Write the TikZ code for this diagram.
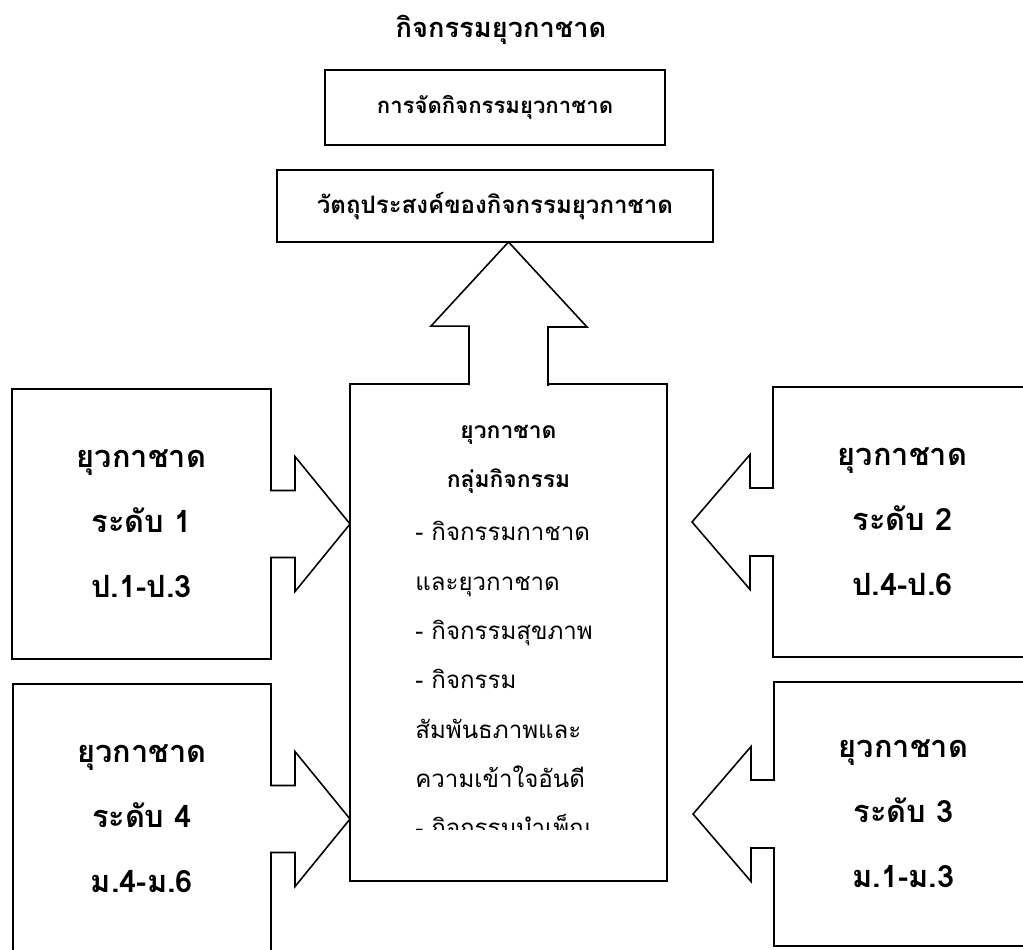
\documentclass[tikz,border=0pt]{standalone}
\usepackage{fontspec}
\newfontfamily\thaifont[Script=Thai]{Loma}
\usetikzlibrary{positioning,calc}

\begin{document}
\begin{tikzpicture}[
    x=0.02cm, y=-0.02cm,
    every node/.style={font=\thaifont},
    headbox/.style={rectangle, draw, line width=1.1pt, inner sep=0pt, outer sep=0pt, font=\thaifont\bfseries\fontsize{13.7}{17}\selectfont},
    lvbox/.style={rectangle, draw, line width=1.1pt, minimum width=5.18cm, minimum height=5.4cm, inner sep=0pt, outer sep=0pt, align=center, font=\thaifont\bfseries\fontsize{17.5}{37}\selectfont},
    corebox/.style={rectangle, draw, line width=1.1pt, minimum width=6.34cm, minimum height=9.94cm, inner sep=0pt, outer sep=0pt},
    chead/.style={align=center, inner sep=0pt, font=\thaifont\bfseries\fontsize{13}{28}\selectfont},
    clist/.style={align=left, inner sep=0pt, font=\thaifont\fontsize{13.7}{28.1}\selectfont},
    blockarrow/.style={draw, fill=white, line width=0.9pt, line join=miter}
]
    \useasboundingbox (0,0) rectangle (1023,949);
    \clip (0,0) rectangle (1023,949);

    % Title and top boxes
    \node[font=\thaifont\bfseries\fontsize{15.5}{18}\selectfont] (title) at (501,30) {กิจกรรมยุวกาชาด};
    \node[headbox, minimum width=6.8cm, minimum height=1.5cm, font=\thaifont\bfseries\fontsize{12.6}{17}\selectfont] (org) at (495,107.5) {การจัดกิจกรรมยุวกาชาด};
    \node[headbox, minimum width=8.72cm, minimum height=1.44cm] (obj) at (495,206) {วัตถุประสงค์ของกิจกรรมยุวกาชาด};

    % Centre box
    \node[corebox] (core) at (508.5,632.5) {};
    \node[chead, anchor=north] (chead) at (core.north |- 0,425) {ยุวกาชาด\\กลุ่มกิจกรรม};
    \begin{scope}
        \clip (350,384) rectangle (667,829);
        \node[clist, anchor=north west] (clist) at (415,521) {- กิจกรรมกาชาด\\และยุวกาชาด\\- กิจกรรมสุขภาพ\\- กิจกรรม\\สัมพันธภาพและ\\ความเข้าใจอันดี\\- กิจกรรมบำเพ็ญ};
    \end{scope}

    % Level boxes
    \node[lvbox] (lv1) at (141.5,524) {ยุวกาชาด\\ระดับ 1\\ป.1-ป.3};
    \node[lvbox] (lv2) at (902.5,522) {ยุวกาชาด\\ระดับ 2\\ป.4-ป.6};
    \node[lvbox, minimum height=5.28cm] (lv3) at (903.5,814) {ยุวกาชาด\\ระดับ 3\\ม.1-ม.3};
    \node[lvbox, minimum width=5.16cm] (lv4) at (142,819) {ยุวกาชาด\\ระดับ 4\\ม.4-ม.6};

    % Arrow tips
    \coordinate (tip2) at ($(lv2.west)+(-81,0)$);
    \coordinate (tip3) at ($(lv3.west)+(-81,0)$);

    % Block arrows
    \draw[blockarrow] ($(core.north)+(-39.5,1)$) -- ++(0,-59) -- ++(-38,0) -- (core.north |- obj.south) -- ++(78.5,85) -- ++(-39,0) -- ++(0,59);
    \draw[blockarrow] ($(lv1.east)+(-1,-33.5)$) -- ++(25,0) -- ++(0,-34) -- (core.west |- lv1.east) -- ++(-55,67.5) -- ++(0,-34) -- ++(-25,0);
    \draw[blockarrow] ($(lv4.east)+(-1,-33.5)$) -- ++(25,0) -- ++(0,-34) -- (core.west |- lv4.east) -- ++(-55,67.5) -- ++(0,-34) -- ++(-25,0);
    \draw[blockarrow] ($(lv2.west)+(1,-34)$) -- ++(-24,0) -- ++(0,-33.5) -- (tip2) -- ++(58,67.5) -- ++(0,-33.5) -- ++(24,0);
    \draw[blockarrow] ($(lv3.west)+(1,-34)$) -- ++(-24,0) -- ++(0,-33.5) -- (tip3) -- ++(58,67.5) -- ++(0,-33.5) -- ++(24,0);
\end{tikzpicture}
\end{document}
